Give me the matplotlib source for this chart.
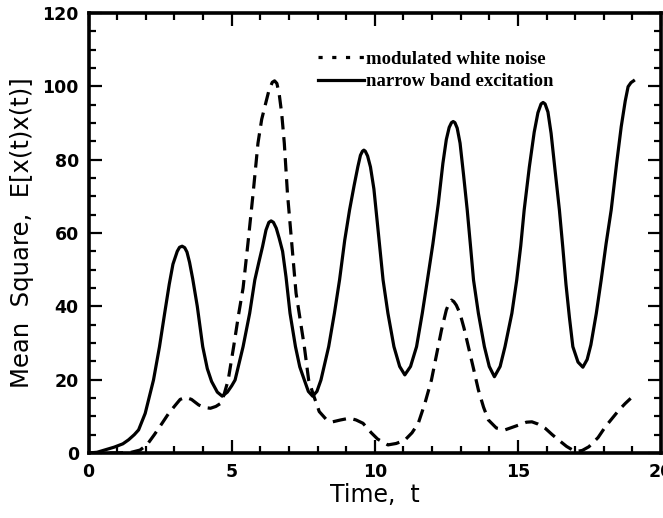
import matplotlib
matplotlib.use('Agg')
import matplotlib.pyplot as plt
from matplotlib.lines import Line2D
from matplotlib.ticker import MultipleLocator

# narrow band excitation (solid)
t_narrow = [0, 0.3, 0.6, 0.9, 1.2, 1.4, 1.6, 1.75, 1.98, 2.27, 2.48, 2.66, 2.82, 2.95, 3.1, 3.18,
            3.27, 3.36, 3.44, 3.53, 3.64, 3.8, 3.99, 4.15, 4.3, 4.5, 4.67, 4.85, 5.0, 5.12, 5.4,
            5.63, 5.81, 5.95, 6.08, 6.2, 6.3, 6.38, 6.46, 6.56, 6.66, 6.78, 6.9, 7.04, 7.23, 7.38,
            7.54, 7.68, 7.83, 7.98, 8.12, 8.39, 8.59, 8.77, 8.95, 9.12, 9.28, 9.41, 9.5, 9.57,
            9.62, 9.67, 9.75, 9.85, 9.97, 10.1, 10.29, 10.46, 10.67, 10.87, 11.05, 11.25, 11.46,
            11.66, 11.84, 12.03, 12.22, 12.38, 12.5, 12.6, 12.68, 12.74, 12.8, 12.88, 12.98,
            13.1, 13.23, 13.35, 13.45, 13.62, 13.83, 14.0, 14.18, 14.38, 14.55, 14.79, 14.96,
            15.1, 15.22, 15.4, 15.57, 15.7, 15.81, 15.88, 15.95, 16.05, 16.16, 16.3, 16.45,
            16.57, 16.68, 16.8, 16.92, 17.1, 17.27, 17.42, 17.55, 17.74, 17.91, 18.08, 18.26,
            18.45, 18.61, 18.75, 18.85, 18.95, 19.04]
v_narrow = [0, 0.2, 0.9, 1.6, 2.5, 3.6, 5.0, 6.3, 10.8, 19.9, 29.0, 38.1, 46.0, 51.5, 55.0, 56.1,
            56.4, 56.0, 54.8, 52.0, 47.5, 40.0, 29.0, 23.0, 19.5, 16.6, 15.5, 16.6, 18.3, 19.9, 29.0,
            38.1, 47.2, 52.0, 56.3, 60.8, 62.9, 63.3, 62.9, 61.3, 58.6, 55.0, 48.0, 38.1, 29.0, 23.5,
            19.9, 16.8, 15.5, 16.8, 19.9, 29.0, 38.1, 47.2, 58.0, 66.3, 73.0, 78.1, 81.2, 82.3,
            82.6, 82.3, 81.0, 78.0, 72.0, 62.0, 47.2, 38.1, 29.0, 23.6, 21.3, 23.6, 29.0,
            38.1, 47.2, 57.0, 68.0, 79.0, 85.5, 88.8, 90.1, 90.4, 90.1, 88.6, 84.5,
            76.0, 66.3, 56.0, 47.2, 38.1, 29.0, 23.6, 20.8, 23.6, 29.0, 38.1, 47.2,
            56.5, 66.3, 78.0, 87.5, 92.8, 95.2, 95.6, 95.2, 93.0, 87.2, 77.0, 66.3,
            56.0, 46.0, 37.0, 29.0, 24.8, 23.4, 25.5, 29.5, 38.1, 47.2, 57.0, 66.3,
            79.0, 89.0, 96.0, 99.9, 101.0, 101.5]

# modulated white noise (dashed)
t_white = [0, 1.0, 1.5, 1.8, 2.04, 2.3, 2.57, 2.8, 3.04, 3.2, 3.39, 3.6, 3.85, 4.05, 4.26, 4.45,
           4.61, 4.73, 4.88, 5.07, 5.25, 5.4, 5.57, 5.75, 5.92, 6.05, 6.19, 6.3, 6.42, 6.5, 6.58,
           6.66, 6.75, 6.84, 6.95, 7.1, 7.25, 7.36, 7.54, 7.69, 7.85, 8.06, 8.3, 8.53, 8.8, 9.12,
           9.35, 9.59, 9.88, 10.1, 10.46, 10.75, 11.05, 11.3, 11.52, 11.75, 11.98, 12.15, 12.33,
           12.5, 12.6, 12.68, 12.76, 12.85, 12.98, 13.12, 13.27, 13.45, 13.62, 13.8, 13.97, 14.25,
           14.55, 15.02, 15.3, 15.49, 15.7, 15.96, 16.2, 16.43, 16.7, 17.01, 17.25, 17.48, 17.8,
           18.06, 18.3, 18.53, 18.75, 18.94]
v_white = [0, 0, 0.2, 0.8, 2.2, 5.0, 8.1, 10.8, 13.1, 14.6, 15.2, 14.6, 13.1, 12.4, 12.2, 12.7,
           13.5, 15.8, 19.9, 29.0, 38.1, 45.0, 57.2, 70.8, 84.5, 91.0, 95.4, 98.8, 101.1, 101.5, 100.8,
           98.0, 92.5, 84.5, 70.8, 57.2, 43.6, 38.1, 29.0, 19.9, 16.0, 11.3, 9.2, 8.5, 9.0, 9.5,
           9.0, 8.1, 5.5, 3.8, 2.2, 2.6, 3.5, 5.5, 8.1, 13.5, 19.9, 26.5, 33.5,
           39.0, 41.0, 41.7, 41.3, 40.3, 38.0, 34.0, 29.0, 23.0, 17.2, 12.5, 9.0, 6.8,
           6.3, 7.6, 8.4, 8.5, 7.9, 6.7, 5.0, 3.5, 1.8, 0.35, 0.7, 1.7, 4.2,
           7.2, 9.5, 11.7, 13.5, 14.9]

plt.rcParams['font.family'] = 'DejaVu Sans'

fig = plt.figure(figsize=(6.63, 5.18), dpi=100)
ax = fig.add_axes([0.1335, 0.1255, 0.8635, 0.8494])

ax.plot(t_white, v_white, color='black', lw=2.3, dashes=(4.2, 2.4), dash_joinstyle='round')
ax.plot(t_narrow, v_narrow, color='black', lw=2.3, solid_joinstyle='round')

ax.set_xlim(0, 20)
ax.set_ylim(0, 120)

ax.xaxis.set_major_locator(MultipleLocator(5))
ax.xaxis.set_minor_locator(MultipleLocator(1))
ax.yaxis.set_major_locator(MultipleLocator(20))
ax.yaxis.set_minor_locator(MultipleLocator(5))

ax.tick_params(which='both', direction='in', top=True, right=True, width=1.6)
ax.tick_params(which='major', length=9.5, pad=7, labelsize=12.5)
ax.tick_params(which='minor', length=5)
for lab in ax.get_xticklabels() + ax.get_yticklabels():
    lab.set_fontweight('bold')

for s in ax.spines.values():
    s.set_linewidth(2.6)

ax.set_xlabel('Time,  t', fontsize=17, labelpad=2)
ax.set_ylabel('Mean  Square,  E[x(t)x(t)]', fontsize=17.5, labelpad=6)

# legend (dotted sample as in the original figure)
handles = [Line2D([], [], color='black', lw=2.3, ls=(0, (1.3, 3.0))),
           Line2D([], [], color='black', lw=2.3)]
leg = ax.legend(handles, ['modulated white noise', 'narrow band excitation'],
                loc='upper left', bbox_to_anchor=(0.40, 0.915), frameon=False,
                borderpad=0, borderaxespad=0, handlelength=2.5, handletextpad=0.1,
                labelspacing=0.3,
                prop={'family': 'Liberation Serif', 'weight': 'bold', 'size': 13.5})

fig.savefig('out.png', dpi=100)
